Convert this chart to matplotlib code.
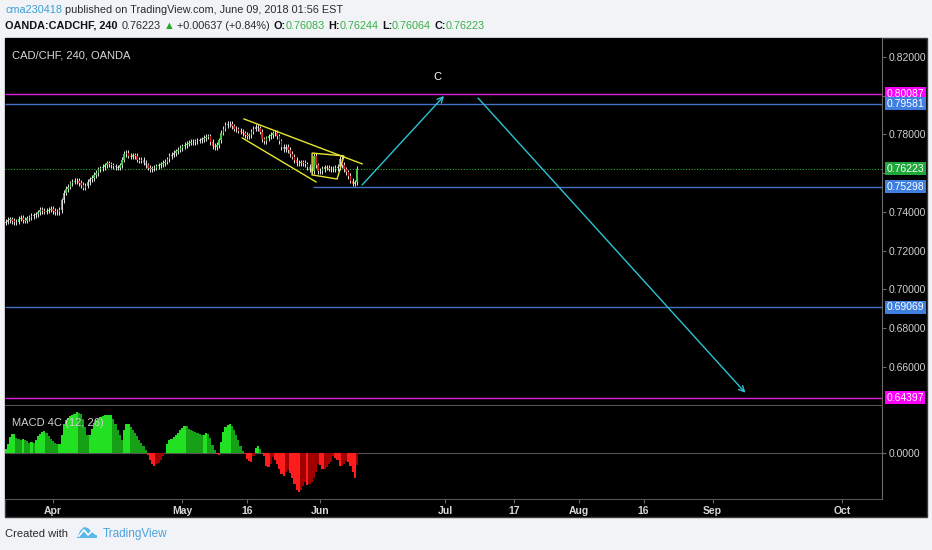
import matplotlib
matplotlib.use('Agg')
import matplotlib.pyplot as plt
import matplotlib.dates as mdates
from matplotlib.patches import Rectangle, Polygon
from matplotlib.transforms import blended_transform_factory
import numpy as np
import pandas as pd

plt.rcParams['font.family'] = ['Liberation Sans', 'DejaVu Sans']

W, H = 932, 550

# 12h candles (close prices)
first_open = 0.7345
closes = [
    0.7350, 0.7358, 0.7362, 0.7352, 0.7346, 0.7350, 0.7365, 0.7368, 0.7358, 0.7355,
    0.7366, 0.7372, 0.7378, 0.7382, 0.7388, 0.7398, 0.7410, 0.7405, 0.7402, 0.7406,
    0.7412, 0.7415, 0.7405, 0.7398, 0.7400, 0.7410, 0.7460, 0.7500, 0.7518, 0.7530,
    0.7548, 0.7556, 0.7562, 0.7560, 0.7550, 0.7540, 0.7525, 0.7535, 0.7555, 0.7568,
    0.7575, 0.7590, 0.7600, 0.7620, 0.7625, 0.7632, 0.7640, 0.7650, 0.7645, 0.7640,
    0.7635, 0.7630, 0.7628, 0.7640, 0.7670, 0.7700, 0.7705, 0.7690, 0.7685, 0.7692,
    0.7688, 0.7670, 0.7665, 0.7668, 0.7655, 0.7640, 0.7628, 0.7622, 0.7625, 0.7628,
    0.7635, 0.7640, 0.7645, 0.7652, 0.7660, 0.7672, 0.7688, 0.7695, 0.7705, 0.7712,
    0.7722, 0.7730, 0.7738, 0.7745, 0.7752, 0.7758, 0.7760, 0.7762, 0.7765, 0.7768,
    0.7770, 0.7775, 0.7782, 0.7788, 0.7790, 0.7760, 0.7740, 0.7735, 0.7745, 0.7770,
    0.7810, 0.7830, 0.7848, 0.7856, 0.7855, 0.7842, 0.7830, 0.7826, 0.7820, 0.7814,
    0.7805, 0.7798, 0.7792, 0.7795, 0.7815, 0.7830, 0.7840, 0.7832, 0.7815, 0.7775,
    0.7765, 0.7780, 0.7790, 0.7798, 0.7805, 0.7810, 0.7790, 0.7765, 0.7735, 0.7725,
    0.7735, 0.7720, 0.7700, 0.7685, 0.7668, 0.7652, 0.7650, 0.7656, 0.7652, 0.7646,
    0.7632, 0.7618, 0.7610, 0.7690, 0.7640, 0.7612, 0.7610, 0.7622, 0.7630, 0.7628,
    0.7624, 0.7620, 0.7622, 0.7626, 0.7632, 0.7675, 0.7642, 0.7620, 0.7605, 0.7585,
    0.7562, 0.7546, 0.7552, 0.76223,
]

# MACD 4C histogram, in pips (1e-4)
macd_pips = [
    4.3, 9.3, 16, 18.7, 19.3, 15.3, 13.7, 13.3, 14.3, 13.3,
    12, 10, 11, 10, 13.3, 16.7, 19.3, 21.3, 21.7, 20,
    16.7, 14.3, 12, 10, 9.3, 9.3, 17.7, 29.3, 33.3, 35,
    36.7, 37.7, 39.3, 40.7, 40, 38.7, 34.3, 26, 17.7, 17.7,
    24.3, 30, 32.7, 34.3, 36, 37, 37.7, 37.7, 37.7, 37.7,
    34.3, 29.3, 22.7, 17.7, 13.3, 22.7, 28.7, 29.3, 26, 22.7,
    20, 16.7, 13.3, 10, 6.7, 2.7, -2.3, -7.3, -11.3, -12.7,
    -11.3, -10, -6.7, -3.3, 0.5, 9.3, 12.7, 14.3, 16, 17.7,
    20, 22.7, 25.3, 27.3, 26.7, 24.3, 23.3, 22, 21, 20,
    19.3, 18, 18.3, 20, 19.3, 15.3, 7.7, 3.3, -0.7, -2.3,
    11, 21, 26, 28.3, 29.3, 26.7, 22.7, 17.7, 12.7, 6.7,
    2, -1.3, -5.7, -8.3, -9, -3.3, 5.3, 7.3, 4.3, 0.3,
    -3.3, -13.3, -14, -10.7, -4, -6.7, -10.7, -15.7, -21.3, -23.3,
    -19, -16.7, -20, -24.7, -30.7, -36.7, -39, -36.7, -33.3, -29,
    -32.3, -31.3, -29, -24.7, -19, -10.7, -12.3, -15.7, -15.7, -14,
    -11.3, -9, -3.3, -4.7, -7.3, -13.3, -12.7, -10.7, -8, -9,
    -13.3, -19, -24.7, -12.3,
]

# horizontal levels
levels = [0.80087, 0.79581, 0.75298, 0.69069, 0.64397]
level_kind = ['magenta', 'blue', 'blue', 'blue', 'magenta']
level_start_day = [None, None, 60.3, None, None]   # days after 2018-04-01
last_price = 0.76223

# drawings: (days after 2018-04-01, price)
upper_channel = [(44.3, 0.7880), (71.7, 0.7648)]
lower_channel = [(43.9, 0.7782), (61.0, 0.7555)]
flag_box = [(60.1, 0.7704), (67.5, 0.7689), (65.9, 0.7570), (60.1, 0.7591)]
arrow_up = [(71.7, 0.7539), (90.7, 0.7999)]
arrow_down = [(98.6, 0.7988), (160.6, 0.6466)]
wave_label = ('C', 89.1, 0.8097)

price_ticks = [0.66, 0.68, 0.70, 0.72, 0.74, 0.76, 0.78, 0.80, 0.82]
hidden_ticks = [0.76, 0.80]   # covered by the level boxes
time_ticks = ['2018-04-01', '2018-05-01', '2018-05-16', '2018-06-02', '2018-07-01',
              '2018-07-17', '2018-08-01', '2018-08-16', '2018-09-01', '2018-10-01']
time_labels = ['Apr', 'May', '16', 'Jun', 'Jul', '17', 'Aug', '16', 'Sep', 'Oct']

# --- colours
BG = '#f1f3f6'
AXC = '#6a6a6a'
TXT = '#d0d0d0'
MAG_LINE = '#e020e0'
MAG_BOX = '#ff00ff'
BLUE_LINE = '#4672c4'
BLUE_BOX = '#3f7fe0'
GREEN_BOX = '#1fa83a'
CYAN = '#2cc3d4'
YELLOW = '#e6e62e'

base = mdates.date2num(pd.Timestamp('2018-04-01').to_pydatetime())
def day(d):
    return base + d

t = mdates.date2num(pd.date_range('2018-03-21', periods=len(closes), freq='12h').to_pydatetime())
c = np.array(closes)
o = np.concatenate([[first_open], c[:-1]])
wick = 0.0014
hi = np.maximum(o, c) + wick
lo = np.minimum(o, c) - wick

fig = plt.figure(figsize=(W / 100, H / 100), dpi=100, facecolor=BG)
fig.patches.append(Rectangle((5 / W, 1 - 517 / H), 922 / W, 479 / H, transform=fig.transFigure,
                             facecolor='black', edgecolor='#3a3a3a', lw=1, zorder=-5))

ax1 = fig.add_axes([5 / W, 1 - 405 / H, 877 / W, 367 / H], facecolor='black')
ax2 = fig.add_axes([5 / W, 1 - 499 / H, 877 / W, 93 / H], facecolor='black', sharex=ax1)

xmin, xmax = day(-11.14), day(192.3)
ax1.set_xlim(xmin, xmax)
ax1.set_ylim(0.6403, 0.8298)

# candles
up = c >= o
ax1.vlines(t, lo, hi, color='#e4e4e4', lw=0.7, zorder=3)
ax1.bar(t[up], (c - o)[up], bottom=o[up], width=0.32, color='#45c845', lw=0, zorder=4)
ax1.bar(t[~up], (c - o)[~up], bottom=o[~up], width=0.32, color='#d42222', lw=0, zorder=4)

# levels
ytrans = blended_transform_factory(ax1.transAxes, ax1.transData)
for lv, kind, start in zip(levels, level_kind, level_start_day):
    lc = MAG_LINE if kind == 'magenta' else BLUE_LINE
    bc = MAG_BOX if kind == 'magenta' else BLUE_BOX
    x0 = xmin if start is None else day(start)
    ax1.hlines(lv, x0, xmax, color=lc, lw=1, zorder=2)
    ax1.text(1.005, lv, f'{lv:.5f}', transform=ytrans, color='white', fontsize=7.5,
             va='center', ha='left', zorder=10, clip_on=False,
             bbox=dict(boxstyle='square,pad=0.15', fc=bc, ec='none'))

ax1.axhline(last_price, color='#22aa22', lw=0.8, ls=(0, (1, 1.5)), zorder=2)
ax1.text(1.005, last_price, f'{last_price:.5f}', transform=ytrans, color='white', fontsize=7.5,
         va='center', ha='left', zorder=10, clip_on=False,
         bbox=dict(boxstyle='square,pad=0.15', fc=GREEN_BOX, ec='none'))

# drawings
for seg in (upper_channel, lower_channel):
    ax1.plot([day(p[0]) for p in seg], [p[1] for p in seg], color=YELLOW, lw=1, zorder=5)
ax1.add_patch(Polygon([(day(d), p) for d, p in flag_box], closed=True, fill=False,
                      edgecolor=YELLOW, lw=1, zorder=5))
for a in (arrow_up, arrow_down):
    ax1.annotate('', xy=(day(a[1][0]), a[1][1]), xytext=(day(a[0][0]), a[0][1]),
                 arrowprops=dict(arrowstyle='->', color=CYAN, lw=1, shrinkA=0, shrinkB=0,
                                 mutation_scale=10), zorder=6)
ax1.text(day(wave_label[1]), wave_label[2], wave_label[0], color='white', fontsize=8,
         ha='center', va='center')

ax1.text(7 / 877, 1 - 17 / 367, 'CAD/CHF, 240, OANDA', transform=ax1.transAxes,
         color='#d8d8d8', fontsize=8, va='center', ha='left')

# MACD 4C
m = np.array(macd_pips) * 1e-4
prev = np.concatenate([[0], m[:-1]])
cols = np.where(m >= 0, np.where(m >= prev, '#22e022', '#16a016'),
                np.where(m < prev, '#ff1c1c', '#a00000'))
ax2.bar(t, m, width=0.5, color=cols, lw=0, zorder=3)
ax2.axhline(0, color='#555555', lw=0.8, zorder=2)
ax2.set_ylim(-0.0046, 0.0047)
ax2.text(7 / 877, 1 - 17 / 93, 'MACD 4C (12, 26)', transform=ax2.transAxes,
         color=TXT, fontsize=8, va='center', ha='left', zorder=5)

# axes styling
for ax in (ax1, ax2):
    for s in ('top', 'left'):
        ax.spines[s].set_visible(False)
    ax.spines['right'].set_color(AXC)
    ax.spines['bottom'].set_color('#555555')
    ax.yaxis.tick_right()
    ax.tick_params(axis='y', colors=AXC, labelcolor=TXT, labelsize=7.5, length=3, width=0.8, pad=2)

ax1.set_yticks(price_ticks)
ax1.set_yticklabels(['' if v in hidden_ticks else f'{v:.5f}' for v in price_ticks])
ax2.set_yticks([0])
ax2.set_yticklabels(['0.0000'])
ax1.tick_params(axis='x', bottom=False, labelbottom=False)

ax2.set_xticks([mdates.date2num(pd.Timestamp(s).to_pydatetime()) for s in time_ticks])
ax2.set_xticklabels(time_labels)
ax2.tick_params(axis='x', colors=AXC, labelcolor='#d8d8d8', labelsize=7.5, length=3, width=0.8, pad=2)
for lab in ax2.get_xticklabels():
    lab.set_fontweight('bold')

# header and footer
renderer = fig.canvas.get_renderer()
def put_segments(x_px, y_px, segments, size=7.8):
    x = x_px
    for s, color, weight, gap in segments:
        txt = fig.text(x / W, 1 - y_px / H, s, color=color, fontweight=weight, fontsize=size,
                       va='center', ha='left')
        x += txt.get_window_extent(renderer).width + gap

DARK = '#2a2a2a'
GRN = '#38b048'
put_segments(5, 10, [('cma230418', '#3c9ed8', 'normal', 3),
                     ('published on TradingView.com, June 09, 2018 01:56 EST', DARK, 'normal', 0)])
put_segments(5, 26, [('OANDA:CADCHF, 240', '#111111', 'bold', 4),
                     ('0.76223', DARK, 'normal', 3),
                     ('\u25b2', '#22aa22', 'normal', 3),
                     ('+0.00637 (+0.84%)', DARK, 'normal', 4),
                     ('O:', '#111111', 'bold', 0), ('0.76083', GRN, 'normal', 3),
                     ('H:', '#111111', 'bold', 0), ('0.76244', GRN, 'normal', 3),
                     ('L:', '#111111', 'bold', 0), ('0.76064', GRN, 'normal', 3),
                     ('C:', '#111111', 'bold', 0), ('0.76223', GRN, 'normal', 0)])

fig.text(5 / W, 1 - 534 / H, 'Created with', color=DARK, fontsize=8, va='center', ha='left')
fig.text(103 / W, 1 - 534 / H, 'TradingView', color='#4aa3df', fontsize=8.5, va='center', ha='left')
logo = [(77, 538), (80, 531), (84, 527), (88, 528), (91, 531), (95, 532), (97, 536), (97, 538)]
fig.patches.append(Polygon([(x / W, 1 - y / H) for x, y in logo], closed=True,
                           transform=fig.transFigure, facecolor='#5bb7e6', edgecolor='none'))
zig = [(79, 536), (84, 530), (88, 535), (92, 531), (96, 534)]
fig.lines.append(plt.Line2D([x / W for x, y in zig], [1 - y / H for x, y in zig],
                            transform=fig.transFigure, color='white', lw=1.2))

fig.savefig('out.png', dpi=100, facecolor=BG)
